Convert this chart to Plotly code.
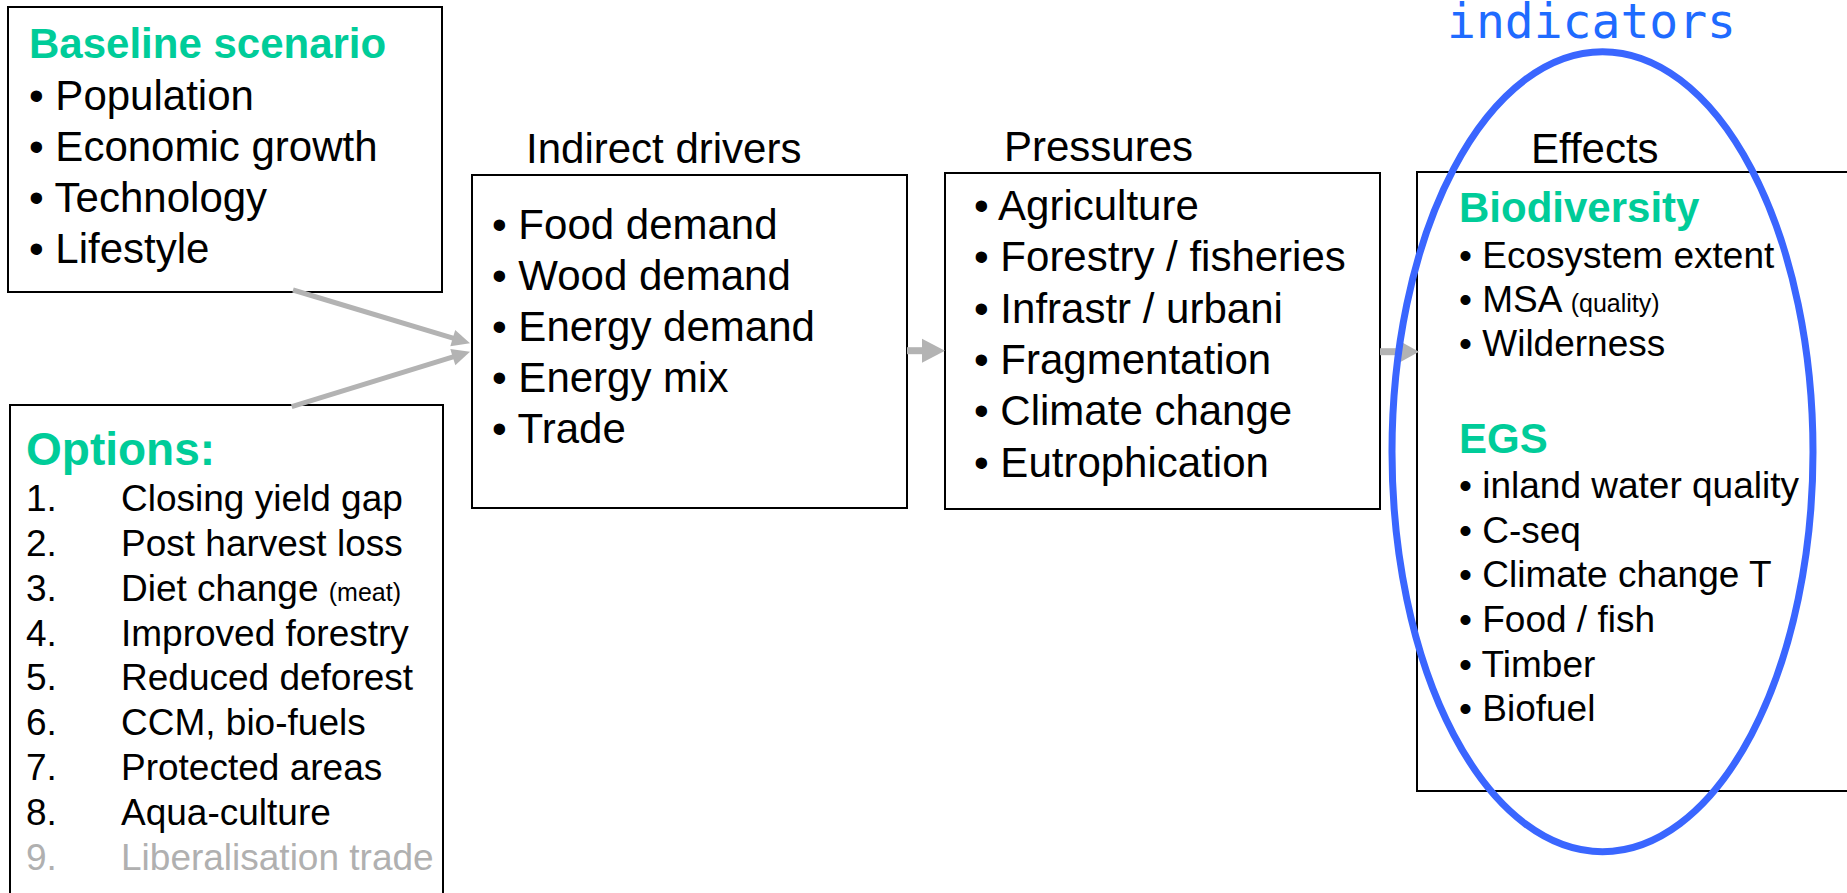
import math
import plotly.graph_objects as go

# ---------------- content ----------------
baseline_title = "Baseline scenario"
baseline_items = ["Population", "Economic growth", "Technology", "Lifestyle"]

options_title = "Options:"
option_numbers = ["1.", "2.", "3.", "4.", "5.", "6.", "7.", "8.", "9."]
option_labels = ["Closing yield gap", "Post harvest loss", "Diet change", "Improved forestry",
                 "Reduced deforest", "CCM, bio-fuels", "Protected areas", "Aqua-culture",
                 "Liberalisation trade"]
option_notes = ["", "", "(meat)", "", "", "", "", "", ""]
option_muted = [False, False, False, False, False, False, False, False, True]

drivers_title = "Indirect drivers"
driver_items = ["Food demand", "Wood demand", "Energy demand", "Energy mix", "Trade"]

pressures_title = "Pressures"
pressure_items = ["Agriculture", "Forestry / fisheries", "Infrastr / urbani", "Fragmentation",
                  "Climate change", "Eutrophication"]

effects_title = "Effects"
biodiv_title = "Biodiversity"
biodiv_items = ["Ecosystem extent", "MSA", "Wilderness"]
biodiv_notes = ["", "(quality)", ""]
egs_title = "EGS"
egs_items = ["inland water quality", "C-seq", "Climate change T", "Food / fish", "Timber", "Biofuel"]

indicator_label = "indicators"

# ---------------- style / layout ----------------
W, H = 1847, 893
FONT = "Liberation Sans, Arial, Helvetica, sans-serif"
GREEN = "#00cc99"
GREY = "#b3b3b3"
MUTED = "#b0b0b0"
BLUE = "#3a66ff"
TXT_BLUE = "#1f6bff"
BIG = 42
MID = 37
SMALL = 25
K = 0.35  # baseline -> centre offset (em)

shapes = []
annotations = []


def text(x, baseline, s, size, color="black", bold=False, family=FONT):
    if bold:
        s = "<b>" + s + "</b>"
    annotations.append(dict(
        x=x, y=baseline - K * size, xref="x", yref="y", text=s, showarrow=False,
        xanchor="left", yanchor="middle", borderpad=0,
        font=dict(size=size, color=color, family=family)))


def box(x0, y0, x1, y1):
    shapes.append(dict(type="rect", xref="x", yref="y", x0=x0, y0=y0, x1=x1, y1=y1,
                       line=dict(color="black", width=2), fillcolor="white", layer="below"))


def arrow(x0, y0, x1, y1, shaft, head_len, head_w, color=GREY):
    dx, dy = x1 - x0, y1 - y0
    d = math.hypot(dx, dy)
    ux, uy = dx / d, dy / d
    px, py = -uy, ux
    bx, by = x1 - head_len * ux, y1 - head_len * uy
    shapes.append(dict(type="line", xref="x", yref="y", x0=x0, y0=y0,
                       x1=bx + 2 * ux, y1=by + 2 * uy,
                       line=dict(color=color, width=shaft)))
    path = "M {:.2f} {:.2f} L {:.2f} {:.2f} L {:.2f} {:.2f} Z".format(
        x1, y1, bx + px * head_w / 2, by + py * head_w / 2, bx - px * head_w / 2, by - py * head_w / 2)
    shapes.append(dict(type="path", xref="x", yref="y", path=path,
                       fillcolor=color, line=dict(color=color, width=0)))


def bullet(s, note=""):
    out = "\u2022 " + s
    if note:
        out += " <span style='font-size:%dpx'>%s</span>" % (SMALL, note)
    return out


# Baseline scenario box
bb = (8, 7, 442, 292)
box(*bb)
text(28, 58, baseline_title, BIG, GREEN, bold=True)
for i, s in enumerate(baseline_items):
    text(28, 110 + 51 * i, bullet(s), BIG)

# Options box (continues past bottom edge)
ob = (10, 405, 443, H + 20)
box(*ob)
text(25, 465, options_title, 46, GREEN, bold=True)
for i, (n, s, note, muted) in enumerate(zip(option_numbers, option_labels, option_notes, option_muted)):
    col = MUTED if muted else "black"
    y = 511.7 + 44.8 * i
    text(25, y, n, MID, col)
    lab = s
    if note:
        lab += " <span style='font-size:%dpx'>%s</span>" % (SMALL, note)
    text(120, y, lab, MID, col)

# Indirect drivers
db = (472, 175, 907, 508)
box(*db)
text(525, 163, drivers_title, BIG)
for i, s in enumerate(driver_items):
    text(491, 239.3 + 51 * i, bullet(s), BIG)

# Pressures
pb = (945, 173, 1380, 509)
box(*pb)
text(1003, 161, pressures_title, BIG)
for i, s in enumerate(pressure_items):
    text(973, 220 + 51.4 * i, bullet(s), BIG)

# Effects (continues past right edge)
eb = (1417, 172, W + 20, 791)
box(*eb)
text(1530, 163, effects_title, BIG)
text(1458, 221.7, biodiv_title, BIG, GREEN, bold=True)
for i, (s, note) in enumerate(zip(biodiv_items, biodiv_notes)):
    text(1458, 268.3 + 44.2 * i, bullet(s, note), MID)
text(1458, 453, egs_title, BIG, GREEN, bold=True)
for i, s in enumerate(egs_items):
    text(1458, 498.3 + 44.7 * i, bullet(s), MID)

# Arrows
arrow(293, 290, db[0] - 2, 343.3, 5, 18, 17)
arrow(291.7, 406.7, db[0] - 2, 351.7, 5, 18, 17)
arrow(db[2], 350.7, pb[0], 350.7, 7, 23, 24)
arrow(pb[2], 351.7, eb[0] + 2, 351.7, 7, 19, 21)

# Indicator ellipse
shapes.append(dict(type="circle", xref="x", yref="y", x0=1392, y0=51.7, x1=1813, y1=851.7,
                   line=dict(color=BLUE, width=7)))
text(1446, 38, indicator_label, 48, TXT_BLUE,
     family="DejaVu Sans Mono, DejaVu Sans, monospace")

fig = go.Figure()
fig.update_layout(
    width=W, height=H, margin=dict(l=0, r=0, t=0, b=0),
    paper_bgcolor="white", plot_bgcolor="white",
    xaxis=dict(range=[0, W], visible=False, fixedrange=True),
    yaxis=dict(range=[H, 0], visible=False, fixedrange=True),
    shapes=shapes, annotations=annotations, showlegend=False,
)
fig.write_html("out.html", config={"displayModeBar": False},
               post_script="document.body.style.margin='0';document.body.style.overflow='hidden';")
